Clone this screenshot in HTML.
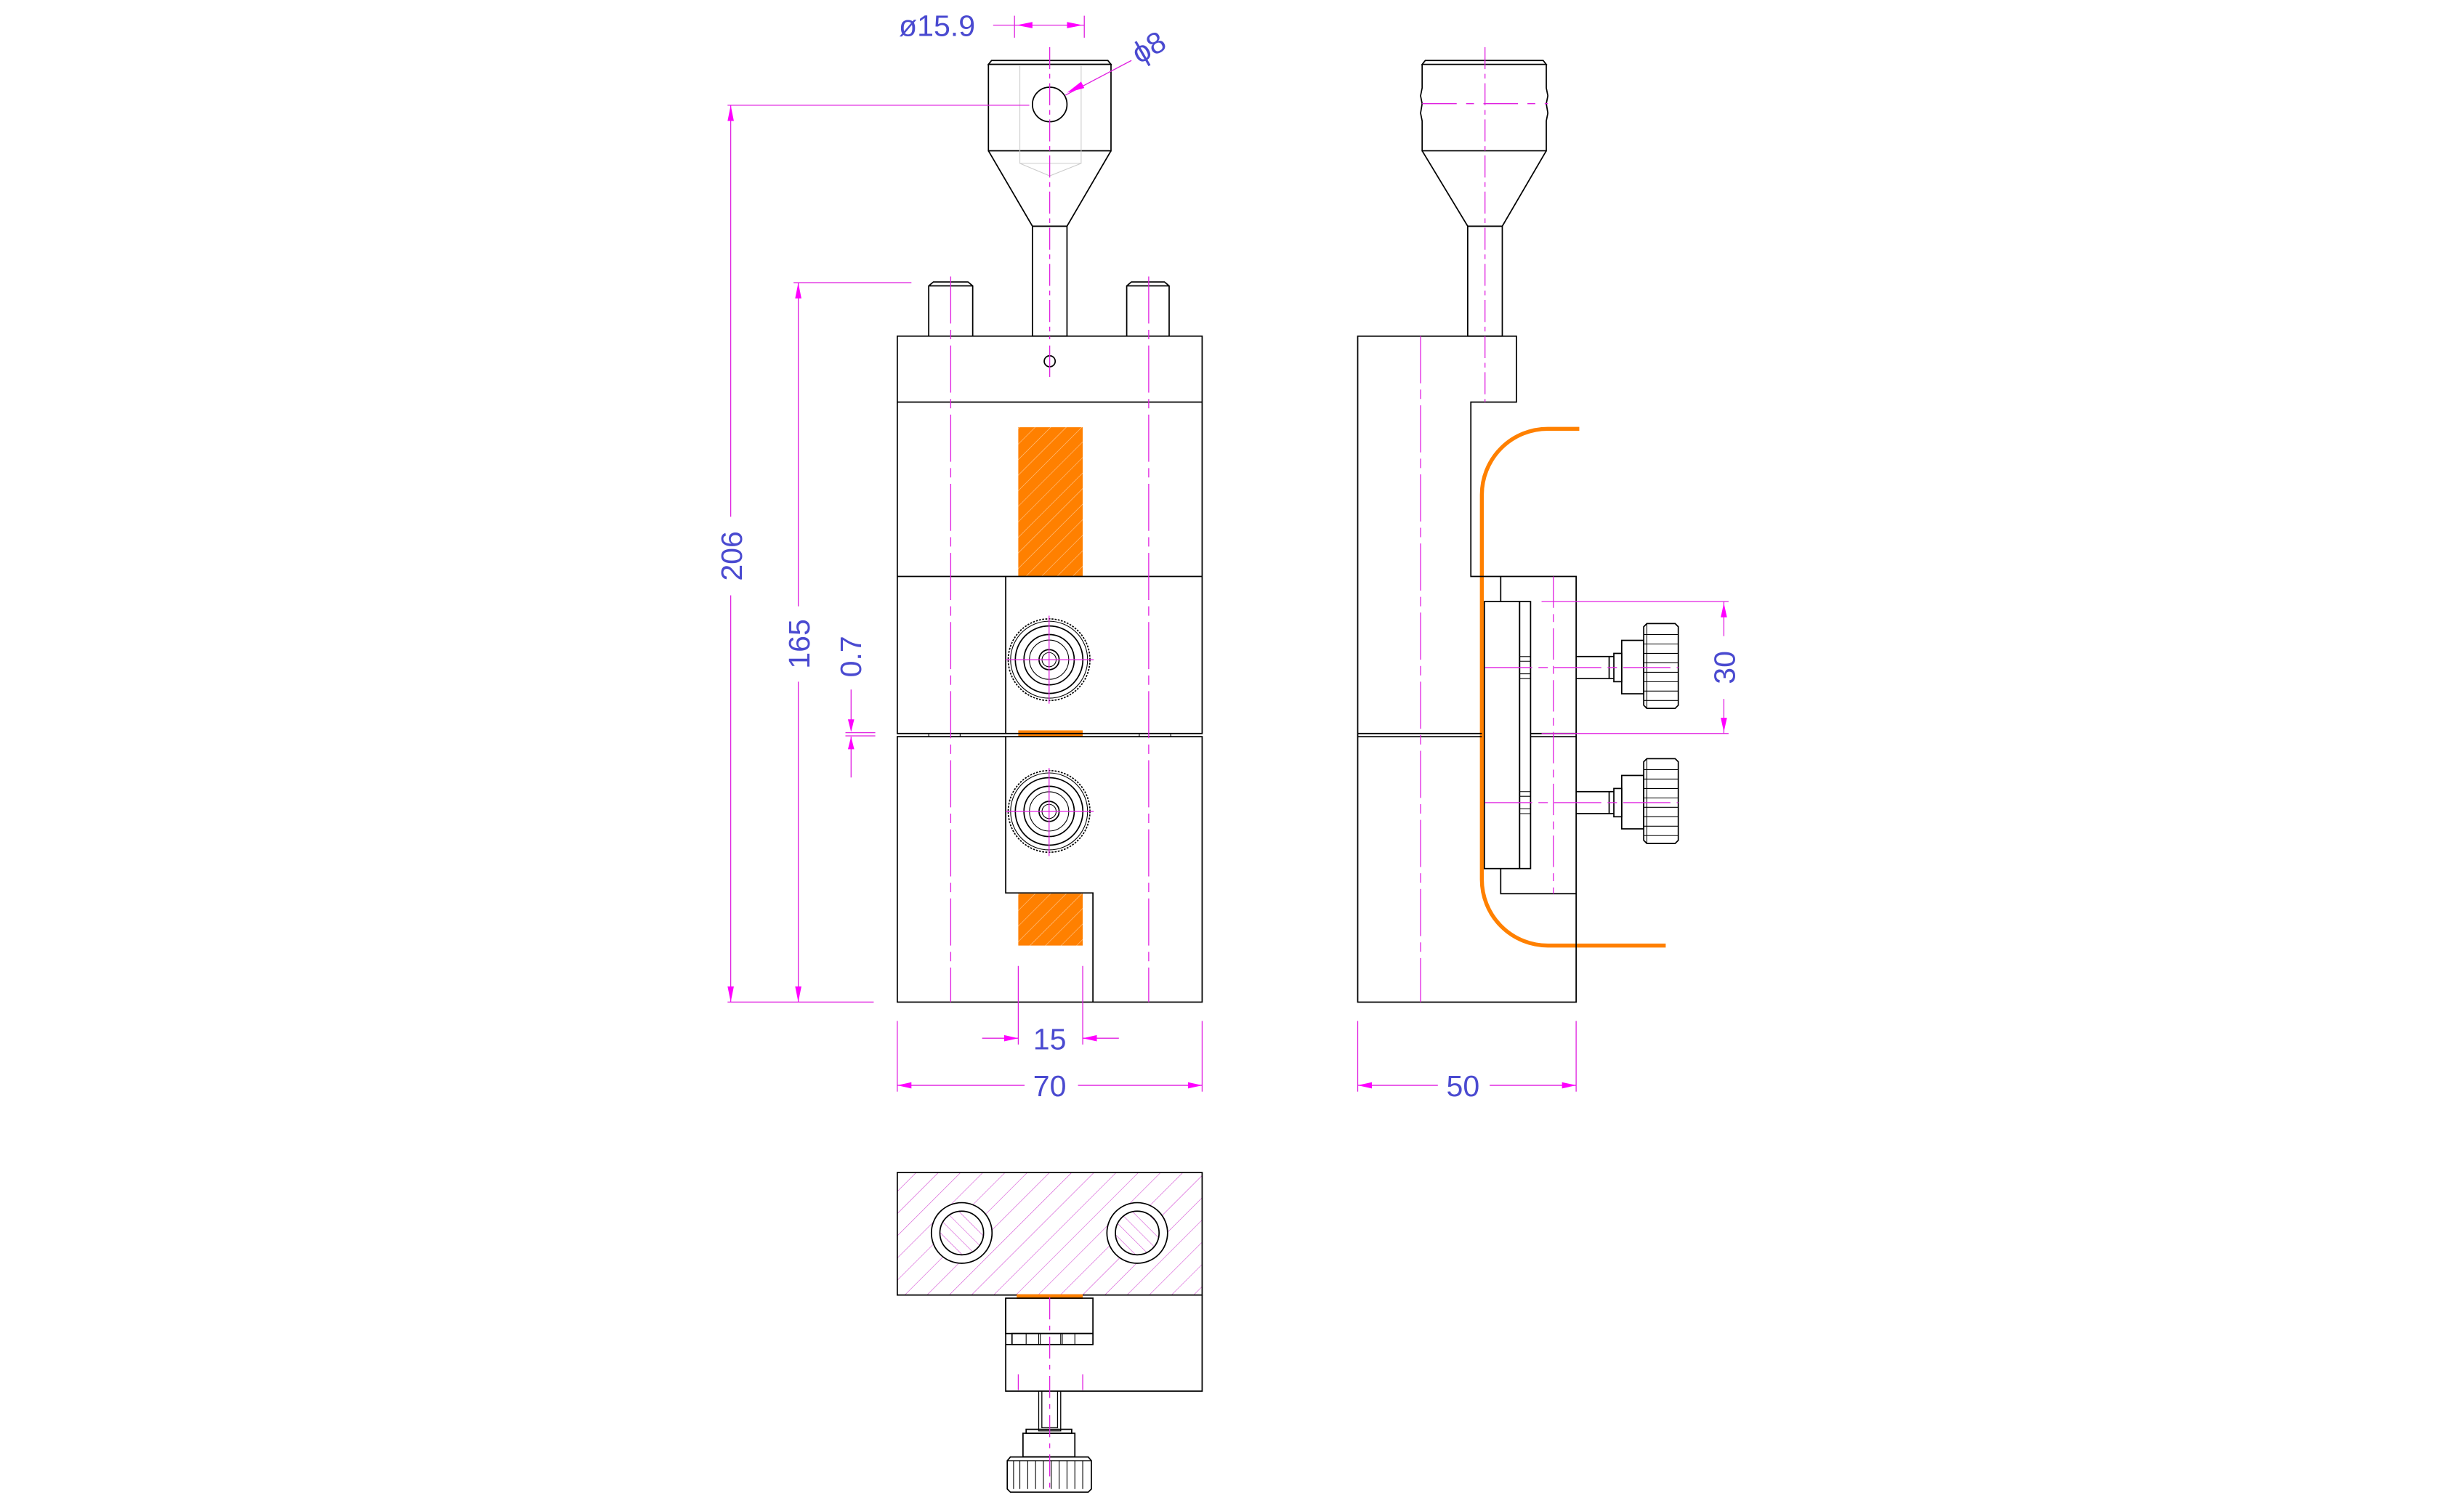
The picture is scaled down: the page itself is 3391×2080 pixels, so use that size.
<!DOCTYPE html>
<html><head><meta charset="utf-8"><style>
html,body{margin:0;padding:0;background:#fff;}
svg{display:block;}
text{font-family:"Liberation Sans",sans-serif;fill:#4a4ad0;font-size:19px;}
</style></head><body>
<svg width="3391" height="2080" viewBox="0 0 1568 962" preserveAspectRatio="none" xmlns="http://www.w3.org/2000/svg">
<defs>
<pattern id="oh" width="7" height="7" patternUnits="userSpaceOnUse" patternTransform="rotate(45)">
<rect width="7" height="7" fill="#ff8000"/><line x1="0" y1="0" x2="0" y2="7" stroke="#ffd0a0" stroke-width="0.5"/>
</pattern>
<pattern id="mh" width="10" height="10" patternUnits="userSpaceOnUse" patternTransform="rotate(45)">
<line x1="0" y1="0" x2="0" y2="10" stroke="#d040d0" stroke-width="0.5"/>
</pattern>
<pattern id="mh2" width="6" height="6" patternUnits="userSpaceOnUse" patternTransform="rotate(-45)">
<line x1="0" y1="0" x2="0" y2="6" stroke="#d040d0" stroke-width="0.5"/>
</pattern>
</defs>
<rect width="1568" height="962" fill="#fff"/>

<g fill="none" stroke="#000" stroke-width="0.8">
<rect x="648" y="272" width="41" height="95" fill="url(#oh)" stroke="none"/>
<rect x="648" y="465" width="41" height="4" fill="#ff8000" stroke="none"/>
<rect x="648" y="569" width="41" height="33" fill="url(#oh)" stroke="none"/>
<path d="M629,41 L631,38.5 L705,38.5 L707,41 Z"/>
<rect x="629" y="41" width="78" height="55"/>
<path d="M629,96 L657,144 L679,144 L707,96"/>
<rect x="657" y="144" width="22" height="70"/>
<circle cx="668" cy="66.5" r="11"/>
<path d="M649,42 V104 L668,112 L688,104 V42 M649,104 H688" stroke="#ccc" stroke-width="0.5"/>
<path d="M591,214 V182 L594,179.5 H616 L619,182 V214 M591,182 H619"/>
<path d="M717,214 V182 L720,179.5 H741 L744,182 V214 M717,182 H744"/>
<rect x="571" y="214" width="194" height="253"/>
<rect x="571" y="469" width="194" height="169"/>
<line x1="571" y1="256" x2="765" y2="256"/>
<line x1="571" y1="367" x2="765" y2="367"/>
<path d="M640,367 V467 M640,469 V568.5 H695.5 V638"/>
<path d="M591,467 V469 M611,467 V469 M745,467 V469 M725,467 V469" stroke-width="0.5"/>
<circle cx="668" cy="230" r="3.5"/>
<g id="knob">
<circle cx="667.6" cy="420" r="26" stroke-dasharray="1.2 0.8"/>
<circle cx="667.6" cy="420" r="24.5" stroke-width="0.5"/>
<circle cx="667.6" cy="420" r="21.5"/>
<circle cx="667.6" cy="420" r="16"/>
<circle cx="667.6" cy="420" r="12.5" stroke-width="0.5"/>
<circle cx="667.6" cy="420" r="6.4"/>
<circle cx="667.6" cy="420" r="4.5" stroke-width="0.5"/>
</g>
<use href="#knob" transform="translate(0,96.6)"/>
</g>
<g stroke="#e020e0" stroke-width="0.6" fill="none">
<line x1="668" y1="30" x2="668" y2="216" stroke-dasharray="14 3 3 3"/>
<line x1="668" y1="220" x2="668" y2="240"/>
<line x1="605" y1="176" x2="605" y2="638" stroke-dasharray="30 4 6 4"/>
<line x1="731" y1="176" x2="731" y2="638" stroke-dasharray="30 4 6 4"/>
<line x1="640" y1="420" x2="696" y2="420"/><line x1="667.6" y1="392" x2="667.6" y2="448"/>
<line x1="640" y1="516.6" x2="696" y2="516.6"/><line x1="667.6" y1="489" x2="667.6" y2="545"/>
</g>

<g stroke="#e020e0" stroke-width="0.6" fill="none">
<line x1="632" y1="16" x2="690" y2="16"/>
<line x1="645.6" y1="10" x2="645.6" y2="24"/>
<line x1="690" y1="10" x2="690" y2="24"/>
<line x1="678" y1="60.6" x2="720" y2="38.5"/>
<line x1="463" y1="67" x2="655" y2="67"/>
<line x1="465" y1="67" x2="465" y2="329"/><line x1="465" y1="379" x2="465" y2="638"/>
<line x1="463" y1="638" x2="556" y2="638"/>
<line x1="505" y1="180" x2="580" y2="180"/>
<line x1="508" y1="180" x2="508" y2="386"/><line x1="508" y1="434" x2="508" y2="638"/>
<line x1="541.6" y1="439" x2="541.6" y2="465"/><line x1="541.6" y1="469" x2="541.6" y2="495"/>
<line x1="538" y1="466.5" x2="557" y2="466.5"/><line x1="538" y1="468.5" x2="557" y2="468.5"/>
<line x1="648" y1="615" x2="648" y2="665"/><line x1="689" y1="615" x2="689" y2="665"/>
<line x1="625" y1="661" x2="648" y2="661"/><line x1="689" y1="661" x2="712" y2="661"/>
<line x1="571" y1="650" x2="571" y2="695"/><line x1="765" y1="650" x2="765" y2="695"/>
<line x1="571" y1="691" x2="652" y2="691"/><line x1="686" y1="691" x2="765" y2="691"/>
</g>
<g fill="#ff00ff">
<polygon points="647,16 657,14 657,18"/>
<polygon points="689,16 679,14 679,18"/>
<polygon points="679,59 688,52 690,56"/>
<polygon points="465,67 463,77 467,77"/>
<polygon points="465,638 463,628 467,628"/>
<polygon points="508,180 506,190 510,190"/>
<polygon points="508,638 506,628 510,628"/>
<polygon points="541.6,466 539.6,458 543.6,458"/>
<polygon points="541.6,469 539.6,477 543.6,477"/>
<polygon points="648,661 639,659 639,663"/>
<polygon points="689,661 698,659 698,663"/>
<polygon points="571,691 580,689 580,693"/>
<polygon points="765,691 756,689 756,693"/>
</g>
<text x="572" y="23">ø15.9</text>
<text x="0" y="0" transform="translate(725,41) rotate(-30)">ϕ8</text>
<text x="0" y="0" text-anchor="middle" transform="translate(472,354) rotate(-90)">206</text>
<text x="0" y="0" text-anchor="middle" transform="translate(515,410) rotate(-90)">165</text>
<text x="0" y="0" text-anchor="middle" transform="translate(548,418) rotate(-90)">0.7</text>
<text x="668" y="668" text-anchor="middle">15</text>
<text x="668" y="698" text-anchor="middle">70</text>

<path d="M985,273 H1005 M985,273 A42,42 0 0 0 943,315 V560 A42,42 0 0 0 985,602 H1060" stroke="#ff8000" stroke-width="2.5" fill="none"/>
<g fill="none" stroke="#000" stroke-width="0.8">
<path d="M905,41 L907,38.5 H982 L984,41 Z"/>
<path d="M905,41 V56 L904,61 L905,66 L904,72 L905,77 V96 H984 V77 L985,72 L984,66 L985,61 L984,56 V41"/>
<path d="M905,96 L934,144 H956 L984,96"/>
<rect x="934" y="144" width="22" height="70"/>
<path d="M864,214 H965 V256 H936 V367 H1003 V638 H864 Z"/>
<path d="M864,467 H943 M864,469 H943 M974,467 H1003 M974,469 H1003"/>
<path d="M955,367 V383 M955,553 V569 H1003"/>
<rect x="944.6" y="383" width="22.4" height="170"/>
<rect x="967" y="383" width="7" height="170"/>
<path d="M967,418 H974 M967,421 H974 M967,429 H974 M967,432 H974 M967,504 H974 M967,507 H974 M967,515 H974 M967,518 H974" stroke-width="0.5"/>
<g id="sk">
<path d="M1003,418 H1027 M1003,432 H1027 M1024,418 V432"/>
<rect x="1027" y="416" width="5" height="18"/>
<rect x="1032" y="407.7" width="14" height="34"/>
<path d="M1046,399 L1048,397 H1066 L1068,399 V449 L1066,451 H1048 L1046,449 Z"/>
<path d="M1048,397 V451 M1046,404 H1068 M1046,410 H1068 M1046,416 H1068 M1046,422 H1068 M1046,428 H1068 M1046,434 H1068 M1046,440 H1068 M1046,446 H1068" stroke-width="0.5"/>
</g>
<use href="#sk" transform="translate(0,86)"/>
</g>
<g stroke="#e020e0" stroke-width="0.6" fill="none">
<line x1="945" y1="30" x2="945" y2="256" stroke-dasharray="14 3 3 3"/>
<line x1="905" y1="66" x2="985" y2="66" stroke-dasharray="22 6 5 6"/>
<line x1="904" y1="214" x2="904" y2="638" stroke-dasharray="30 4 6 4"/>
<line x1="988.5" y1="367" x2="988.5" y2="569" stroke-dasharray="20 4 5 4"/>
<line x1="945" y1="425" x2="1068" y2="425" stroke-dasharray="30 4 6 4"/>
<line x1="945" y1="511" x2="1068" y2="511" stroke-dasharray="30 4 6 4"/>
<line x1="981" y1="383" x2="1100" y2="383"/><line x1="981" y1="467" x2="1100" y2="467"/>
<line x1="1097" y1="383" x2="1097" y2="405"/><line x1="1097" y1="445" x2="1097" y2="467"/>
<line x1="864" y1="650" x2="864" y2="695"/><line x1="1003" y1="650" x2="1003" y2="695"/>
<line x1="864" y1="691" x2="915" y2="691"/><line x1="948" y1="691" x2="1003" y2="691"/>
</g>
<g fill="#ff00ff">
<polygon points="1097,384 1095,393 1099,393"/>
<polygon points="1097,466 1095,457 1099,457"/>
<polygon points="864,691 873,689 873,693"/>
<polygon points="1003,691 994,689 994,693"/>
</g>
<text x="0" y="0" text-anchor="middle" transform="translate(1104,425) rotate(-90)">30</text>
<text x="931" y="698" text-anchor="middle">50</text>

<rect x="571" y="746.5" width="194" height="78" fill="url(#mh)" stroke="#000" stroke-width="0.8"/>
<g stroke="#000" stroke-width="0.8">
<circle cx="612" cy="785" r="19.3" fill="#fff"/>
<circle cx="612" cy="785" r="13.9" fill="url(#mh2)"/>
<circle cx="723.7" cy="785" r="19.3" fill="#fff"/>
<circle cx="723.7" cy="785" r="13.9" fill="url(#mh2)"/>
</g>
<rect x="647" y="824" width="42" height="3" fill="#ff8000"/>
<g fill="none" stroke="#000" stroke-width="0.8">
<path d="M640,826.5 V885.7 H765 V824.5"/>
<rect x="640" y="826.5" width="55.5" height="22.5"/>
<rect x="644" y="849" width="51.5" height="7"/>
<path d="M653,849 V856 M661,849 V856 M662,849 V856 M675,849 V856 M676,849 V856 M684,849 V856" stroke-width="0.5"/>
<path d="M640,856 H695.5"/>
<path d="M661,885.7 V911 H675 V885.7 M663,885.7 V909 H673 V885.7" stroke-width="0.6"/>
<rect x="653" y="910" width="29" height="2.5"/>
<rect x="651" y="912.5" width="33" height="15"/>
<path d="M643,927.6 H692.5 L694.5,930 V948 L692.5,950 H643 L641,948 V930 Z"/>
<path d="M645,930 V948 M649,930 V948 M654,930 V948 M659,930 V948 M664,930 V948 M669,930 V948 M674,930 V948 M679,930 V948 M684,930 V948 M689,930 V948 M641,930 H694.5" stroke-width="0.5"/>
</g>
<g stroke="#e020e0" stroke-width="0.6" fill="none">
<line x1="668" y1="826" x2="668" y2="950" stroke-dasharray="14 4 3 4"/>
<line x1="648" y1="875" x2="648" y2="885"/><line x1="689" y1="875" x2="689" y2="885"/>
</g>
</svg>
</body></html>
